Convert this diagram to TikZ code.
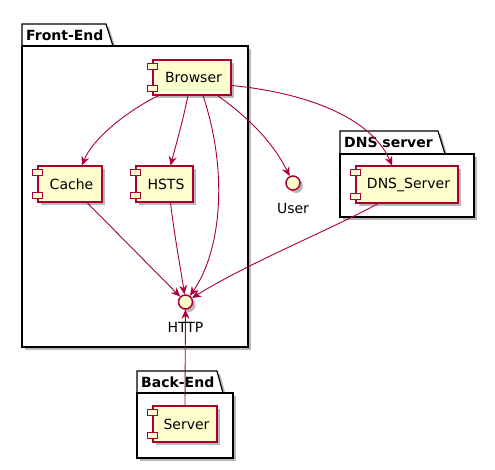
\documentclass[tikz,border=0pt]{standalone}
\usepackage{fontspec}
\setmainfont{DejaVu Sans}
\usetikzlibrary{shadows,arrows.meta,calc}
\definecolor{pborder}{HTML}{A80036}
\definecolor{pfill}{HTML}{FEFECE}
\tikzset{
  shd/.style={drop shadow={shadow xshift=3pt,shadow yshift=-3pt,fill=black,opacity=0.28}},
  comp/.style={draw=pborder, fill=pfill, line width=1.2pt, rectangle, inner sep=0pt,
    font=\fontsize{14}{16}\selectfont, shd},
  compbar/.style={draw=pborder, fill=pfill, line width=1.2pt},
  iface/.style={circle, draw=pborder, fill=pfill, line width=1.5pt, minimum size=14pt, inner sep=0pt, shd},
  ilabel/.style={font=\fontsize{14}{16}\selectfont, inner sep=0pt},
  pkgbody/.style={draw=black, fill=white, line width=1.2pt, rectangle, inner sep=0pt, shd},
  pkgtab/.style={draw=black, fill=white, line width=1.2pt, shd},
  pkgtitle/.style={font=\bfseries\fontsize{14}{16}\selectfont, anchor=west, inner sep=0pt},
  conn/.style={draw=pborder, line width=0.9pt, -{Stealth[length=9pt,width=8pt,inset=3pt]}},
}
\begin{document}
\begin{tikzpicture}[x=1pt,y=-1pt]
\useasboundingbox (0,0) rectangle (495,469);
% packages
\path[pkgtab] (22,46) -- (22,24) -- (106,24) -- (113,46) -- cycle;
\node[pkgbody, minimum width=226pt, minimum height=301pt] (fe) at (135,196.5) {};
\node[pkgtitle] (fetitle) at (26,35.5) {Front-End};

\path[pkgtab] (340,154) -- (340,131) -- (438,131) -- (445,154) -- cycle;
\node[pkgbody, minimum width=134pt, minimum height=63pt] (dnspkg) at (407,185.5) {};
\node[pkgtitle] (dnstitle) at (344,142.5) {DNS server};

\path[pkgtab] (137,393) -- (137,371) -- (217,371) -- (223,393) -- cycle;
\node[pkgbody, minimum width=96pt, minimum height=65pt] (bepkg) at (185,425.5) {};
\node[pkgtitle] (betitle) at (141,382) {Back-End};

% components
\node[comp, minimum width=78pt, minimum height=35pt] (browser) at (192,77.5) {\hspace*{3pt}Browser};
\node[comp, minimum width=64pt, minimum height=36pt] (cache) at (70,184) {\hspace*{3pt}Cache};
\node[comp, minimum width=57pt, minimum height=36pt] (hsts) at (164.5,184) {\hspace*{3pt}HSTS};
\node[comp, minimum width=102pt, minimum height=37pt] (dns) at (407,184.5) {\hspace*{3pt}DNS\_Server};
\node[comp, minimum width=64pt, minimum height=36pt] (server) at (185,424) {\hspace*{3pt}Server};
\foreach \c in {browser,cache,hsts,dns,server}{
  \draw[compbar] ($(\c.north west)+(-5,4)$) rectangle ++(10,6);
  \draw[compbar] ($(\c.south west)+(-5,-10)$) rectangle ++(10,6);
}

% interfaces
\node[iface] (user) at (293,183) {};
\node[iface] (http) at (185.5,302) {};

% connectors
\draw[conn] ($(browser.south west)+(6,0)$) .. controls (125,112) and (92,140) .. ($(cache.north)+(12,0)$);
\draw[conn] ($(browser.south)+(-4,0)$) .. controls (183,120) and (176,145) .. ($(hsts.north)+(6,0)$);
\draw[conn] ($(browser.south)+(11,0)$) .. controls (228,170) and (222,250) .. (http);
\draw[conn] ($(browser.south east)+(-14,0)$) .. controls (245,115) and (272,140) .. (user);
\draw[conn] ($(browser.east)+(0,8)$) .. controls (300,92) and (370,115) .. ($(dns.north)+(-15,0)$);
\draw[conn] ($(cache.south)+(17,0)$) -- (http);
\draw[conn] ($(hsts.south)+(6,0)$) .. controls (175,240) and (181,270) .. (http);
\draw[conn] ($(dns.south)+(-29,0)$) .. controls (330,230) and (250,262) .. (http);
\draw[conn] (server.north) -- (http);

% interface labels
\node[ilabel] (userlbl) at (293,208) {User};
\node[ilabel] (httplbl) at (185.5,327) {HTTP};
\end{tikzpicture}
\end{document}
